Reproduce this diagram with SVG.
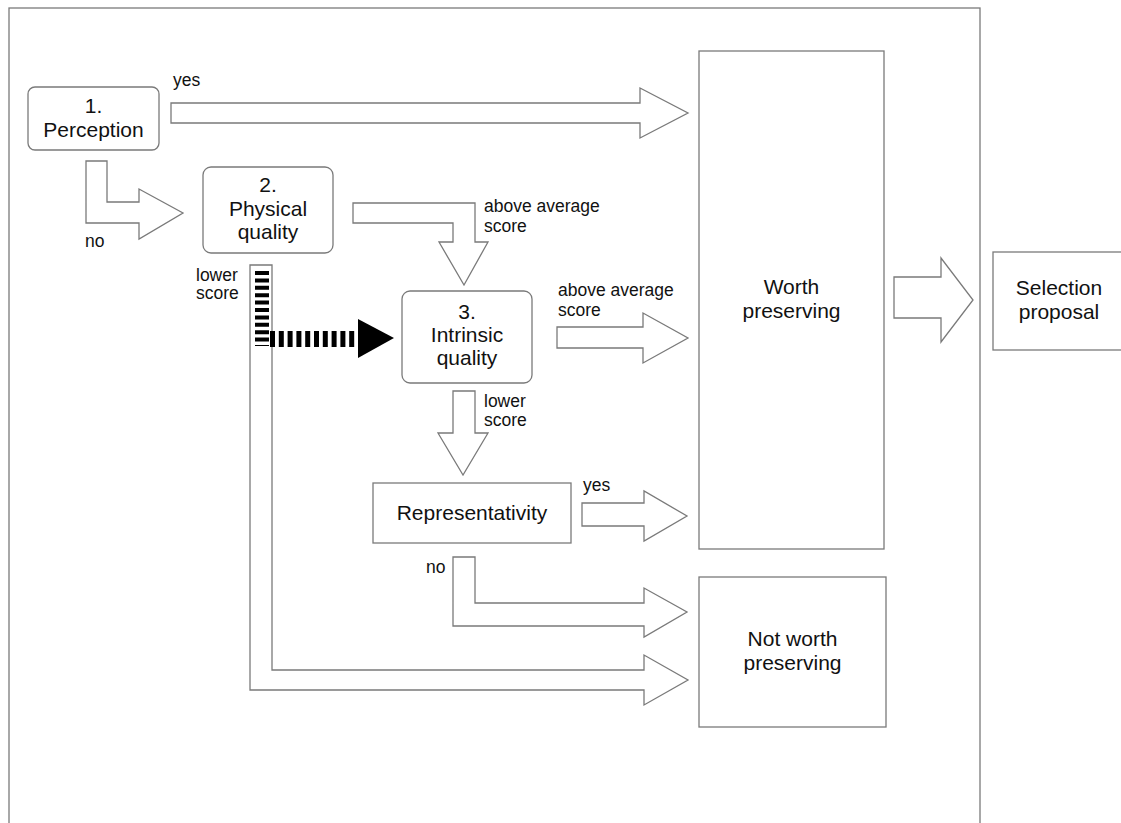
<svg xmlns="http://www.w3.org/2000/svg" width="1121" height="823" viewBox="0 0 1121 823">
<style>
.bx{fill:#fff;stroke:#7a7a7a;stroke-width:1.3}
.ar{fill:#fff;stroke:#7a7a7a;stroke-width:1.3;stroke-linejoin:miter}
.t{font-family:"Liberation Sans",Arial,Helvetica,sans-serif;font-size:21px;fill:#111;text-anchor:middle}
.l{font-family:"Liberation Sans",Arial,Helvetica,sans-serif;font-size:17.5px;fill:#111}
</style>
<rect x="0" y="0" width="1121" height="823" fill="#fff"/>
<rect id="frame" x="9" y="8" width="971" height="830" fill="none" stroke="#7a7a7a" stroke-width="1.3"/>
<g id="connectors">
<path class="ar" d="M171,103 L640,103 L640,88 L688,113 L640,138 L640,123 L171,123 Z"/>
<path class="ar" d="M86,161 L107,161 L107,202 L139,202 L139,189 L183,213 L139,239 L139,223 L86,223 Z"/>
<path class="ar" d="M353,203 L475,203 L475,242 L488,242 L464,285 L439,242 L453,242 L453,223 L353,223 Z"/>
<path class="ar" d="M557,327 L643,327 L643,313 L688,338 L643,363 L643,348 L557,348 Z"/>
<path class="ar" d="M453,391 L475,391 L475,433 L488,433 L463,475 L438,433 L453,433 Z"/>
<path class="ar" d="M582,503 L644,503 L644,491 L687,516 L644,541 L644,526 L582,526 Z"/>
<path class="ar" d="M453,557 L475,557 L475,603 L644,603 L644,588 L687,612 L644,637 L644,626 L453,626 Z"/>
<path class="ar" d="M250,265 L272,265 L272,670 L644,670 L644,655 L688,680 L644,705 L644,690 L250,690 Z"/>
<path class="ar" d="M894,277 L941,277 L941,258 L973,300 L941,342 L941,318 L894,318 Z"/>
<line x1="262" y1="271" x2="262" y2="346" stroke="#000" stroke-width="14" stroke-dasharray="4 3.4"/>
<line x1="270" y1="339" x2="358" y2="339" stroke="#000" stroke-width="16" stroke-dasharray="5 3.8"/>
<path d="M358,319 L394,338 L358,358 Z" fill="#000"/>
<text class="l" x="173" y="86">yes</text>
<text class="l" x="85" y="247">no</text>
<text class="l" x="484" y="212">above average</text>
<text class="l" x="484" y="232">score</text>
<text class="l" x="558" y="296">above average</text>
<text class="l" x="558" y="316">score</text>
<text class="l" x="196" y="281">lower</text>
<text class="l" x="196" y="299">score</text>
<text class="l" x="484" y="407">lower</text>
<text class="l" x="484" y="426">score</text>
<text class="l" x="583" y="491">yes</text>
<text class="l" x="426" y="573">no</text>
</g>
<g id="perception">
<rect class="bx" x="28" y="87" width="131" height="63" rx="7"/>
<text class="t" x="93.5" y="113">1.</text>
<text class="t" x="93.5" y="137">Perception</text>
</g>
<g id="physical">
<rect class="bx" x="203" y="167" width="130" height="86" rx="8"/>
<text class="t" x="268" y="192">2.</text>
<text class="t" x="268" y="216">Physical</text>
<text class="t" x="268" y="239">quality</text>
</g>
<g id="intrinsic">
<rect class="bx" x="402" y="291" width="130" height="92" rx="8"/>
<text class="t" x="467" y="319">3.</text>
<text class="t" x="467" y="342">Intrinsic</text>
<text class="t" x="467" y="365">quality</text>
</g>
<g id="representativity">
<rect class="bx" x="373" y="483" width="198" height="60"/>
<text class="t" x="472" y="520">Representativity</text>
</g>
<g id="worth">
<rect class="bx" x="699" y="51" width="185" height="498"/>
<text class="t" x="791.5" y="294">Worth</text>
<text class="t" x="791.5" y="318">preserving</text>
</g>
<g id="notworth">
<rect class="bx" x="699" y="577" width="187" height="150"/>
<text class="t" x="792.5" y="646">Not worth</text>
<text class="t" x="792.5" y="670">preserving</text>
</g>
<g id="selection">
<rect class="bx" x="993" y="252" width="140" height="98"/>
<text class="t" x="1059" y="295">Selection</text>
<text class="t" x="1059" y="319">proposal</text>
</g>
</svg>
